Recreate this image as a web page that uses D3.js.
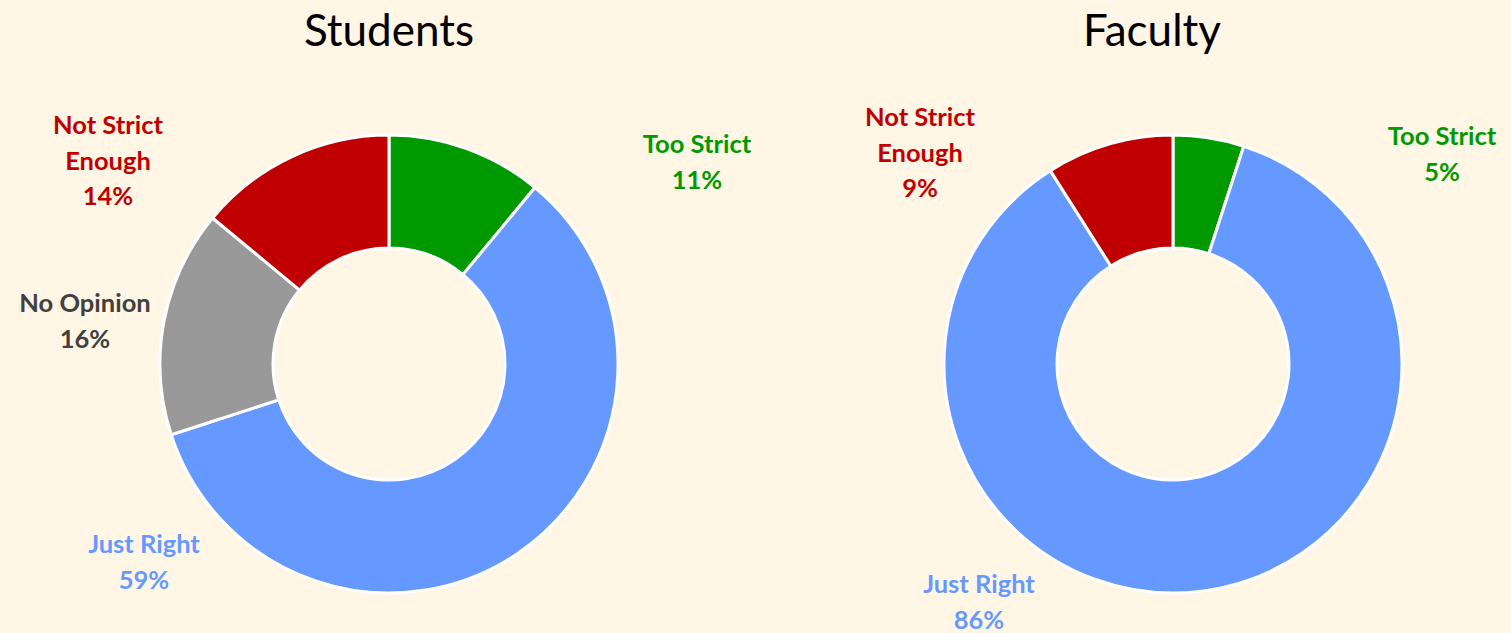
<!DOCTYPE html>
<html>
<head>
<meta charset="utf-8">
<script src="https://cdn.jsdelivr.net/npm/d3@7"></script>
<style>
  html, body { margin: 0; padding: 0; background: #FFF6E5; }
  svg { display: block; }
  .title { font-family: Lato, "Open Sans", sans-serif; font-size: 44px; fill: #000; }
  .lbl { font-family: Lato, "Open Sans", sans-serif; font-size: 25.5px; font-weight: bold; }
</style>
</head>
<body>
<div id="chart"></div>
<script>
const categories = ['Too Strict', 'Just Right', 'No Opinion', 'Not Strict Enough'];
const colors = ['#009900', '#6699FF', '#999999', '#C00000'];
const labelColors = ['#009900', '#6699FF', '#404040', '#C00000'];
const studentValues = [11, 59, 16, 14];
const facultyValues = [5, 86, 0, 9];
const labelLines = [['Too Strict'], ['Just Right'], ['No Opinion'], ['Not Strict', 'Enough']];

const W = 1511, H = 633;
const svg = d3.select('#chart').append('svg').attr('width', W).attr('height', H);
svg.append('rect').attr('width', W).attr('height', H).attr('fill', '#FFF6E5');

const outerR = 229, innerR = 116;
const pie = d3.pie().sort(null).value(d => d.value);
const arc = d3.arc().innerRadius(innerR).outerRadius(outerR);

// label offsets relative to donut centre (layout only)
const charts = [
    {title: 'Students', values: studentValues, cx: 389, cy: 364, titleX: 389,
     offsets: [[308, -202], [-245, 198], [-304, -43], [-281, -203]]},
    {title: 'Faculty', values: facultyValues, cx: 1173, cy: 364, titleX: 1152,
     offsets: [[269, -210], [-194, 238], null, [-253, -211]]}
];

charts.forEach(c => {
    svg.append('text').attr('class', 'title')
        .attr('x', c.titleX).attr('y', 46)
        .attr('text-anchor', 'middle')
        .text(c.title);

    const data = categories.map((k, i) => ({key: k, value: c.values[i], i: i}));
    const g = svg.append('g').attr('transform', `translate(${c.cx},${c.cy})`);
    g.selectAll('path')
        .data(pie(data).filter(d => d.data.value > 0))
        .enter().append('path')
        .attr('d', arc)
        .attr('fill', d => colors[d.data.i])
        .attr('stroke', '#fff')
        .attr('stroke-width', 3)
        .attr('stroke-linejoin', 'round');

    const lineH = 35.5;
    data.filter(d => d.value > 0).forEach(d => {
        const off = c.offsets[d.i];
        const lines = labelLines[d.i].concat([d.value + '%']);
        const top = off[1] - (lines.length - 1) * lineH / 2;
        const t = g.append('text').attr('class', 'lbl')
            .attr('text-anchor', 'middle')
            .attr('fill', labelColors[d.i]);
        lines.forEach((ln, j) => {
            t.append('tspan').attr('x', off[0]).attr('y', top + j * lineH)
                .attr('dy', '0.35em').text(ln);
        });
    });
});
</script>
</body>
</html>
